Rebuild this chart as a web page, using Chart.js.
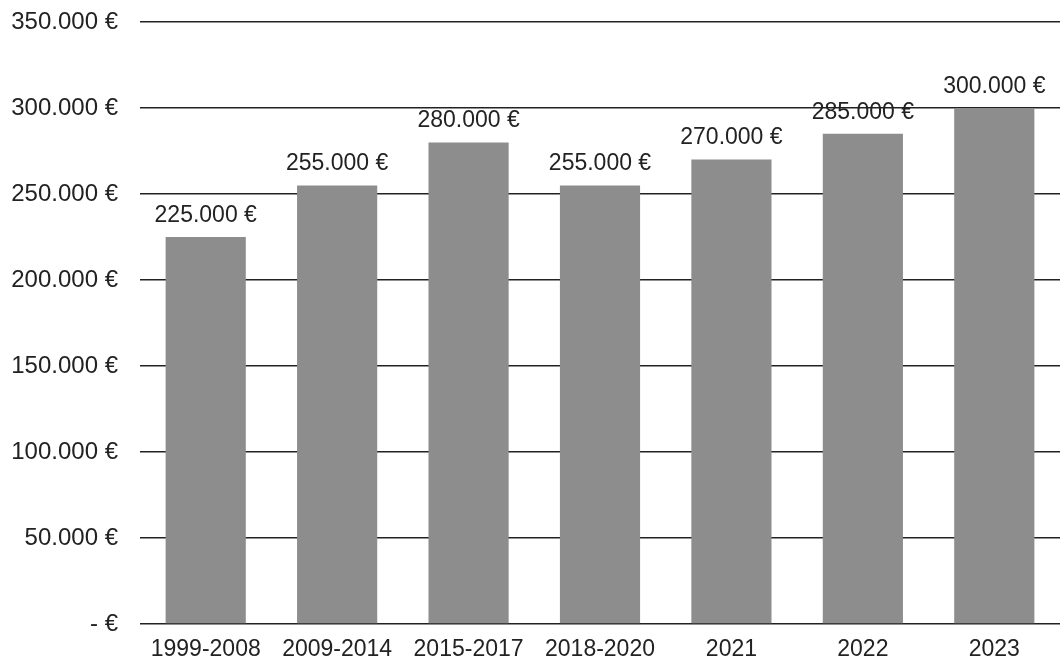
<!DOCTYPE html>
<html>
<head>
<meta charset="utf-8">
<script src="https://cdn.jsdelivr.net/npm/chart.js@4"></script>
<style>
  html, body { margin: 0; padding: 0; background: #fff; }
  #wrap { width: 1060px; height: 667px; }
</style>
</head>
<body>
<div id="wrap"><canvas id="myChart" width="1060" height="667"></canvas></div>
<script>
var categories = ['1999-2008', '2009-2014', '2015-2017', '2018-2020', '2021', '2022', '2023'];
var prices = [225000, 255000, 280000, 255000, 270000, 285000, 300000];
var tickValues = [0, 50000, 100000, 150000, 200000, 250000, 300000, 350000];

function euro(v) {
  if (v === 0) return '- €';
  return String(v).replace(/\B(?=(\d{3})+(?!\d))/g, '.') + ' €';
}

// draws the value above every bar
var valueLabels = {
  id: 'valueLabels',
  afterDatasetsDraw: function(chart) {
    var ctx = chart.ctx;
    var meta = chart.getDatasetMeta(0);
    ctx.save();
    ctx.font = '23px "Liberation Sans", Arial, sans-serif';
    ctx.fillStyle = '#222';
    ctx.textAlign = 'center';
    ctx.textBaseline = 'bottom';
    meta.data.forEach(function(bar, i) {
      ctx.fillText(euro(prices[i]), bar.x, bar.y - 10);
    });
    ctx.restore();
  }
};

var ctx = document.getElementById('myChart').getContext('2d');
var myChart = new Chart(ctx, {
  type: 'bar',
  data: {
    labels: categories,
    datasets: [{
      label: 'Preis',
      data: prices,
      backgroundColor: '#8d8d8d',
      barPercentage: 0.61,
      categoryPercentage: 1.0
    }]
  },
  options: {
    responsive: false,
    animation: false,
    layout: { padding: { top: 22, right: 0, left: 0, bottom: 0 } },
    plugins: {
      legend: { display: false },
      tooltip: { enabled: false }
    },
    scales: {
      x: {
        grid: { display: false, drawTicks: false },
        border: { display: false },
        afterFit: function(axis) { axis.height = 43; },
        ticks: {
          color: '#222',
          padding: 12,
          font: { family: '"Liberation Sans", Arial, sans-serif', size: 23 }
        }
      },
      y: {
        min: 0,
        max: 350000,
        afterBuildTicks: function(axis) {
          axis.ticks = tickValues.map(function(v) { return { value: v }; });
        },
        afterFit: function(axis) {
          axis.width = 140;
          axis.paddingTop = 0;
        },
        grid: { color: '#222', lineWidth: 1.6, drawTicks: false },
        border: { display: false },
        ticks: {
          color: '#222',
          padding: 22,
          font: { family: '"Liberation Sans", Arial, sans-serif', size: 24 },
          callback: function(v) { return euro(v); }
        }
      }
    }
  },
  plugins: [valueLabels]
});
</script>
</body>
</html>
